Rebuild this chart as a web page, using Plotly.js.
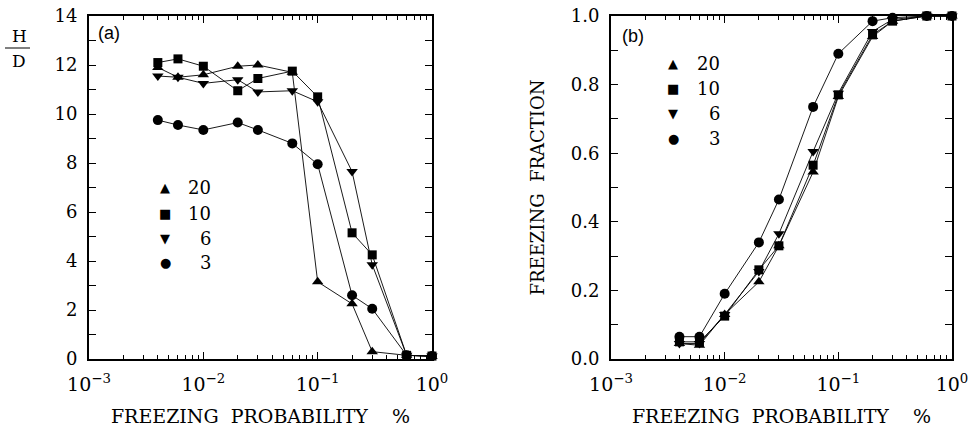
<!DOCTYPE html>
<html><head><meta charset="utf-8">
<script src="https://cdn.plot.ly/plotly-3.0.1.min.js"></script>
<style>html,body{margin:0;padding:0;background:#fff}</style>
</head><body>
<div id="chart" style="width:975px;height:432px"></div>
<script>
// ---- data ----
const freezingProb = [0.004, 0.006, 0.01, 0.02, 0.03, 0.06, 0.1, 0.2, 0.3, 0.6, 1.0];
const seriesNames = ['20', '10', '6', '3'];

// panel (a): H/D
const hd20 = [11.9, 11.5, 11.6, 11.95, 12.0, 11.7, 3.15, 2.25, 0.3, 0.15, 0.1];
const hd10 = [12.1, 12.25, 11.95, 10.95, 11.45, 11.75, 10.7, 5.15, 4.25, 0.15, 0.12];
const hd6  = [11.55, 11.5, 11.25, 11.4, 10.9, 10.95, 10.5, 7.65, 3.85, 0.15, 0.12];
const hd3  = [9.75, 9.55, 9.35, 9.65, 9.35, 8.8, 7.95, 2.6, 2.05, 0.15, 0.12];

// panel (b): freezing fraction
const ff20 = [0.045, 0.04, 0.13, 0.225, 0.33, 0.545, 0.765, 0.94, 0.985, 1.0, 1.0];
const ff10 = [0.05, 0.05, 0.125, 0.26, 0.33, 0.565, 0.77, 0.945, 0.985, 1.0, 1.0];
const ff6  = [0.045, 0.045, 0.13, 0.255, 0.365, 0.605, 0.775, 0.955, 0.99, 1.0, 1.0];
const ff3  = [0.065, 0.065, 0.19, 0.34, 0.465, 0.735, 0.89, 0.985, 0.995, 1.0, 1.0];

const xTickVals = [0.001, 0.01, 0.1, 1];
const xTickText = ['10<sup>\u22123</sup>', '10<sup>\u22122</sup>', '10<sup>\u22121</sup>', '10<sup>0</sup>'];
const yTicksA = [0, 2, 4, 6, 8, 10, 12, 14];
const yTicksB = [0, 0.2, 0.4, 0.6, 0.8, 1.0];

// ---- styling ----
const symbols = ['triangle-up', 'square', 'triangle-down', 'circle'];
const msizes = [10, 9, 10, 10];
const FONT = 'DejaVu Serif';
const W = 975, H = 432;
const px = v => v / W, py = v => 1 - v / H;

// minor log tick positions (2..9 within each decade)
const minorX = [];
[-3, -2, -1].forEach(d => { for (let k = 2; k <= 9; k++) minorX.push(k * Math.pow(10, d)); });

const hdSeries = [hd20, hd10, hd6, hd3];
const ffSeries = [ff20, ff10, ff6, ff3];
const traces = [];
hdSeries.forEach((ys, i) => traces.push({
  x: freezingProb, y: ys, xaxis: 'x', yaxis: 'y', type: 'scatter', mode: 'lines+markers',
  name: seriesNames[i], showlegend: false, cliponaxis: false,
  line: {color: '#000', width: 0.9},
  marker: {symbol: symbols[i], size: msizes[i], color: '#000'}
}));
ffSeries.forEach((ys, i) => traces.push({
  x: freezingProb, y: ys, xaxis: 'x2', yaxis: 'y2', type: 'scatter', mode: 'lines+markers',
  name: seriesNames[i], showlegend: false, cliponaxis: false,
  line: {color: '#000', width: 0.9},
  marker: {symbol: symbols[i], size: msizes[i], color: '#000'}
}));
// empty traces so the minor-tick overlay axes exist
traces.push({x: [], y: [], xaxis: 'x3', yaxis: 'y', type: 'scatter', mode: 'markers', showlegend: false, hoverinfo: 'skip'});
traces.push({x: [], y: [], xaxis: 'x4', yaxis: 'y2', type: 'scatter', mode: 'markers', showlegend: false, hoverinfo: 'skip'});

const yDom = [(H - 359) / H, (H - 16) / H];
const xAxisBase = {
  type: 'log', range: [-3, 0], tickmode: 'array', tickvals: xTickVals, ticktext: xTickText,
  showgrid: false, zeroline: false,
  showline: true, linewidth: 2, linecolor: '#000', mirror: 'allticks',
  ticks: 'inside', ticklen: 7, tickwidth: 1, tickcolor: '#000',
  minor: {tickmode: 'array', tickvals: minorX, ticks: 'inside', ticklen: 4, tickwidth: 1, tickcolor: '#000', showgrid: false},
  tickfont: {family: FONT, size: 19, color: '#000'},
  ticklabelstandoff: 7
};
const minorAxisBase = {
  type: 'log', range: [-3, 0], tickmode: 'array', tickvals: minorX, showticklabels: false,
  showgrid: false, zeroline: false, showline: false, mirror: 'allticks',
  ticks: 'inside', ticklen: 4, tickwidth: 1, tickcolor: '#000'
};
const yAxisBase = {
  showgrid: false, zeroline: false, showline: true, linewidth: 2, linecolor: '#000',
  mirror: 'allticks', ticks: 'inside', ticklen: 7, tickwidth: 1, tickcolor: '#000',
  tickfont: {family: FONT, size: 18, color: '#000'}, domain: yDom,
  ticklabelstandoff: 6
};

const xTitle = {text: 'FREEZING  PROBABILITY   \u00A0%', font: {family: FONT, size: 19, color: '#000'}, standoff: 16};
const minorTick = {ticks: 'inside', ticklen: 4, tickwidth: 1, tickcolor: '#000', showgrid: false};

const layout = {
  width: W, height: H, margin: {l: 0, r: 0, t: 0, b: 0},
  paper_bgcolor: '#fff', plot_bgcolor: '#fff', showlegend: false,
  xaxis: Object.assign({}, xAxisBase, {domain: [px(89), px(432)], anchor: 'y', title: xTitle}),
  xaxis3: Object.assign({}, minorAxisBase, {domain: [px(89), px(432)], anchor: 'y', overlaying: 'x'}),
  yaxis: Object.assign({}, yAxisBase, {range: [0, 14], tickmode: 'array', tickvals: yTicksA,
    minor: Object.assign({dtick: 1}, minorTick), anchor: 'x'}),
  xaxis2: Object.assign({}, xAxisBase, {domain: [px(611), px(952)], anchor: 'y2', title: xTitle}),
  xaxis4: Object.assign({}, minorAxisBase, {domain: [px(611), px(952)], anchor: 'y2', overlaying: 'x2'}),
  yaxis2: Object.assign({}, yAxisBase, {range: [0, 1], tickmode: 'array', tickvals: yTicksB, tickformat: '.1f',
    minor: Object.assign({dtick: 0.1}, minorTick), anchor: 'x2',
    title: {text: 'FREEZING  FRACTION', font: {family: FONT, size: 18, color: '#000'}, standoff: 21}}),
  shapes: [
    {type: 'line', xref: 'paper', yref: 'paper', x0: px(5), x1: px(30), y0: py(48), y1: py(48), line: {color: '#000', width: 1}}
  ],
  annotations: []
};

const ann = (x, y, text, size, family) => layout.annotations.push({
  xref: 'paper', yref: 'paper', x: px(x), y: py(y), text: text, showarrow: false,
  xanchor: 'center', yanchor: 'middle', font: {family: family || FONT, size: size || 18, color: '#000'}
});
ann(19, 36, 'H', 17);
ann(19, 61, 'D', 17);
ann(109, 33, '(a)', 18, 'Liberation Sans');
ann(633, 36, '(b)', 18, 'Liberation Sans');

const glyphs = ['\u25B2', '\u25A0', '\u25BC', '\u25CF'];
const legendA = {mx: 165, lx: 213, ys: [188, 213, 238, 262]};
const legendB = {mx: 673, lx: 722, ys: [63, 88, 113, 138]};
[legendA, legendB].forEach(L => {
  seriesNames.forEach((n, i) => {
    layout.annotations.push({xref: 'paper', yref: 'paper', x: px(L.mx), y: py(L.ys[i]), text: glyphs[i],
      showarrow: false, xanchor: 'center', yanchor: 'middle', font: {family: 'DejaVu Sans', size: 13, color: '#000'}});
    layout.annotations.push({xref: 'paper', yref: 'paper', x: px(L.lx), y: py(L.ys[i]), text: n,
      showarrow: false, xanchor: 'right', yanchor: 'middle', font: {family: FONT, size: 18, color: '#000'}});
  });
});

Plotly.newPlot('chart', traces, layout, {staticPlot: true, displayModeBar: false});
</script>
</body></html>
